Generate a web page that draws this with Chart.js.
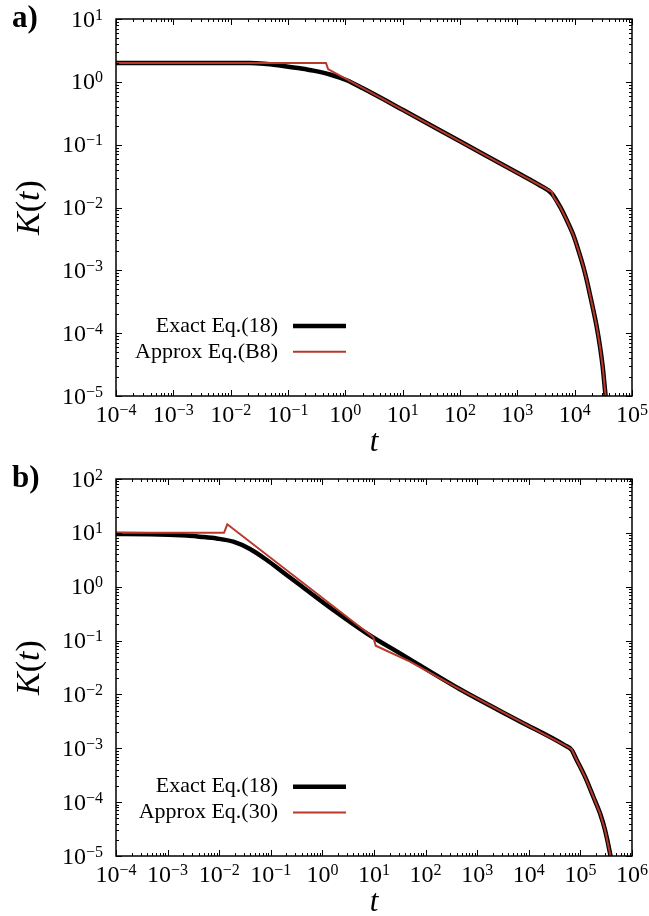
<!DOCTYPE html>
<html>
<head>
<meta charset="utf-8">
<script src="https://cdn.jsdelivr.net/npm/chart.js@4.4.0/dist/chart.umd.min.js"></script>
<style>
  html, body { margin: 0; padding: 0; background: #fff; }
  .panel { width: 649px; height: 458px; }
  canvas { display: block; }
</style>
</head>
<body>
<div class="panel"><canvas id="chartA" width="649" height="458"></canvas></div>
<div class="panel"><canvas id="chartB" width="649" height="458"></canvas></div>
<script>
// panel a: exact kernel vs. approximation (B8)
const tA_exact = [1e-4, 0.00292, 0.0217, 0.0426, 0.0828, 0.162, 0.276, 0.541, 1.057, 2.06, 10, 100, 1000, 2490, 3981, 5560, 7260, 9480, 11590, 14160, 16220, 18530, 21150, 24250, 27690, 30830, 33800, 36640];
const kA_exact = [2.0, 2.0, 2.0, 1.92, 1.79, 1.64, 1.51, 1.31, 1.06, 0.78, 0.359, 0.113, 0.0357, 0.0224, 0.0167, 0.0103, 0.00632, 0.00365, 0.0021, 0.00114, 0.0007, 0.000405, 0.000233, 0.000126, 6.08e-5, 2.92e-5, 1.25e-5, 6e-6];
const tA_approx = [1e-4, 0.46, 0.50, 10, 100, 1000, 3981, 4250, 5560, 7260, 9480, 11590, 14160, 16220, 18530, 21150, 24250, 27690, 30830, 33800, 36640];
const kA_approx = [2.0, 2.0, 1.6, 0.359, 0.113, 0.0357, 0.0178, 0.0149, 0.0103, 0.00632, 0.00365, 0.0021, 0.00114, 0.0007, 0.000405, 0.000233, 0.000126, 6.08e-5, 2.92e-5, 1.25e-5, 6e-6];

// panel b: exact kernel vs. approximation (30)
const tB_exact = [1e-4, 4.56e-4, 0.00238, 0.00425, 0.00893, 0.01875, 0.0395, 0.0834, 0.1746, 0.368, 1.626, 7.22, 31.9, 464, 6750, 50300, 67700, 84700, 122700, 178000, 240000, 300000, 375000, 409000];
const kB_exact = [9.5, 9.45, 8.93, 8.49, 7.86, 6.85, 5.01, 3.13, 1.84, 1.076, 0.37, 0.1365, 0.058, 0.01245, 0.00315, 0.00113, 0.00093, 6.07e-4, 2.97e-4, 1.26e-4, 6.2e-5, 3.04e-5, 1.12e-5, 6.8e-6];
const tB_approx = [1e-4, 0.0124, 0.01435, 9.7, 10.8, 49.9, 464, 6750, 50300, 67700, 84700, 122700, 178000, 240000, 300000, 375000, 409000];
const kB_approx = [10, 10, 14.4, 0.115, 0.0804, 0.0405, 0.01245, 0.00315, 0.00113, 0.00096, 6.07e-4, 2.97e-4, 1.26e-4, 6.2e-5, 3.04e-5, 1.12e-5, 6.8e-6];

const xRangeA = [1e-4, 1e5], yRangeA = [1e-5, 1e1];
const xRangeB = [1e-4, 1e6], yRangeB = [1e-5, 1e2];

const SERIF = '"Liberation Serif", "Times New Roman", serif';
const BLACK = '#000000';
const RED = '#b8392b';

function pairs(ts, ks) {
  return ts.map((t, i) => ({ x: t, y: ks[i] }));
}

// "10" with a raised exponent
function powLabel(ctx, exp, x, y, align) {
  const base = '10';
  const sup = exp < 0 ? '\u2212' + (-exp) : String(exp);
  ctx.font = '24px ' + SERIF;
  const wb = ctx.measureText(base).width;
  ctx.font = '16px ' + SERIF;
  const ws = ctx.measureText(sup).width;
  const x0 = align === 'right' ? x - wb - ws : x - (wb + ws) / 2;
  ctx.textAlign = 'left';
  ctx.textBaseline = 'alphabetic';
  ctx.font = '24px ' + SERIF;
  ctx.fillText(base, x0, y);
  ctx.font = '16px ' + SERIF;
  ctx.fillText(sup, x0 + wb, y - 7);
}

// frame, inward ticks, labels, legend and titles
const decorPlugin = {
  id: 'decor',
  afterDatasetsDraw(chart, args, o) {
    const { ctx, chartArea: a, scales } = chart;
    const xs = scales.x, ys = scales.y;
    ctx.save();
    ctx.fillStyle = '#000';
    ctx.strokeStyle = '#000';

    // ticks along x
    ctx.lineWidth = 1;
    const xd0 = Math.round(Math.log10(xs.min)), xd1 = Math.round(Math.log10(xs.max));
    for (let d = xd0; d <= xd1; d++) {
      for (let k = 1; k <= (d < xd1 ? 9 : 1); k++) {
        const px = Math.round(xs.getPixelForValue(k * Math.pow(10, d))) + 0.5;
        const len = k === 1 ? 6 : 3;
        ctx.beginPath();
        ctx.moveTo(px, a.bottom); ctx.lineTo(px, a.bottom - len);
        ctx.moveTo(px, a.top); ctx.lineTo(px, a.top + len);
        ctx.stroke();
      }
      powLabel(ctx, d, xs.getPixelForValue(Math.pow(10, d)), a.bottom + 26, 'center');
    }

    // ticks along y
    const yd0 = Math.round(Math.log10(ys.min)), yd1 = Math.round(Math.log10(ys.max));
    for (let d = yd0; d <= yd1; d++) {
      for (let k = 1; k <= (d < yd1 ? 9 : 1); k++) {
        const py = Math.round(ys.getPixelForValue(k * Math.pow(10, d))) + 0.5;
        const len = k === 1 ? 6 : 3;
        ctx.beginPath();
        ctx.moveTo(a.left, py); ctx.lineTo(a.left + len, py);
        ctx.moveTo(a.right, py); ctx.lineTo(a.right - len, py);
        ctx.stroke();
      }
      powLabel(ctx, d, a.left - 13, ys.getPixelForValue(Math.pow(10, d)) + 7.5, 'right');
    }

    // frame
    ctx.lineWidth = 1.5;
    ctx.strokeRect(a.left, a.top, a.right - a.left, a.bottom - a.top);

    // legend, text right-aligned before a line sample
    const lg = o.legend;
    lg.order.forEach((idx, row) => {
      const ds = chart.data.datasets[idx];
      const y = lg.y + row * lg.dy;
      ctx.font = '22px ' + SERIF;
      ctx.textAlign = 'right';
      ctx.textBaseline = 'middle';
      ctx.fillStyle = '#000';
      ctx.fillText(ds.label, lg.textRight, y);
      ctx.strokeStyle = ds.borderColor;
      ctx.lineWidth = ds.borderWidth;
      ctx.beginPath();
      ctx.moveTo(lg.x0, y); ctx.lineTo(lg.x1, y);
      ctx.stroke();
    });

    // axis titles
    ctx.fillStyle = '#000';
    ctx.textBaseline = 'alphabetic';
    ctx.textAlign = 'center';
    ctx.font = 'italic 31px ' + SERIF;
    ctx.fillText('t', (a.left + a.right) / 2, o.tBaseline);

    ctx.save();
    ctx.translate(o.kBaseline, (a.top + a.bottom) / 2);
    ctx.rotate(-Math.PI / 2);
    const parts = [['K', 'italic 34px '], ['(', '34px '], ['t', 'italic 34px '], [')', '34px ']];
    let w = 0;
    parts.forEach(p => { ctx.font = p[1] + SERIF; w += ctx.measureText(p[0]).width; });
    let cx = -w / 2;
    ctx.textAlign = 'left';
    parts.forEach(p => {
      ctx.font = p[1] + SERIF;
      ctx.fillText(p[0], cx, 0);
      cx += ctx.measureText(p[0]).width;
    });
    ctx.restore();

    // panel tag
    ctx.font = 'bold 31px ' + SERIF;
    ctx.textAlign = 'left';
    ctx.fillText(o.tag, 12, o.tagBaseline);
    ctx.restore();
  }
};

function makeChart(id, tag, padding, xr, yr, exact, approx, approxLabel, legendY, tagBaseline) {
  return new Chart(document.getElementById(id), {
    type: 'line',
    data: {
      datasets: [
        {
          label: approxLabel,
          data: approx,
          borderColor: RED,
          borderWidth: 2,
          tension: 0,
          order: 0
        },
        {
          label: 'Exact Eq.(18)',
          data: exact,
          borderColor: BLACK,
          borderWidth: 4.5,
          cubicInterpolationMode: 'monotone',
          order: 1
        }
      ]
    },
    options: {
      responsive: false,
      animation: false,
      layout: { padding: padding },
      elements: { point: { radius: 0 } },
      plugins: {
        legend: { display: false },
        tooltip: { enabled: false },
        decor: {
          tag: tag,
          tagBaseline: tagBaseline,
          tBaseline: 458 - padding.bottom + 55,
          kBaseline: 39,
          legend: { order: [1, 0], y: legendY, dy: 25.8, textRight: 278, x0: 293, x1: 346 }
        }
      },
      scales: {
        x: { type: 'logarithmic', min: xr[0], max: xr[1], display: false },
        y: { type: 'logarithmic', min: yr[0], max: yr[1], display: false }
      }
    },
    plugins: [decorPlugin]
  });
}

makeChart('chartA', 'a)', { left: 116, right: 17, top: 19, bottom: 62 }, xRangeA, yRangeA,
  pairs(tA_exact, kA_exact), pairs(tA_approx, kA_approx), 'Approx Eq.(B8)', 326, 27);
makeChart('chartB', 'b)', { left: 116, right: 17, top: 21, bottom: 60 }, xRangeB, yRangeB,
  pairs(tB_exact, kB_exact), pairs(tB_approx, kB_approx), 'Approx Eq.(30)', 328.7, 29);
</script>
</body>
</html>
